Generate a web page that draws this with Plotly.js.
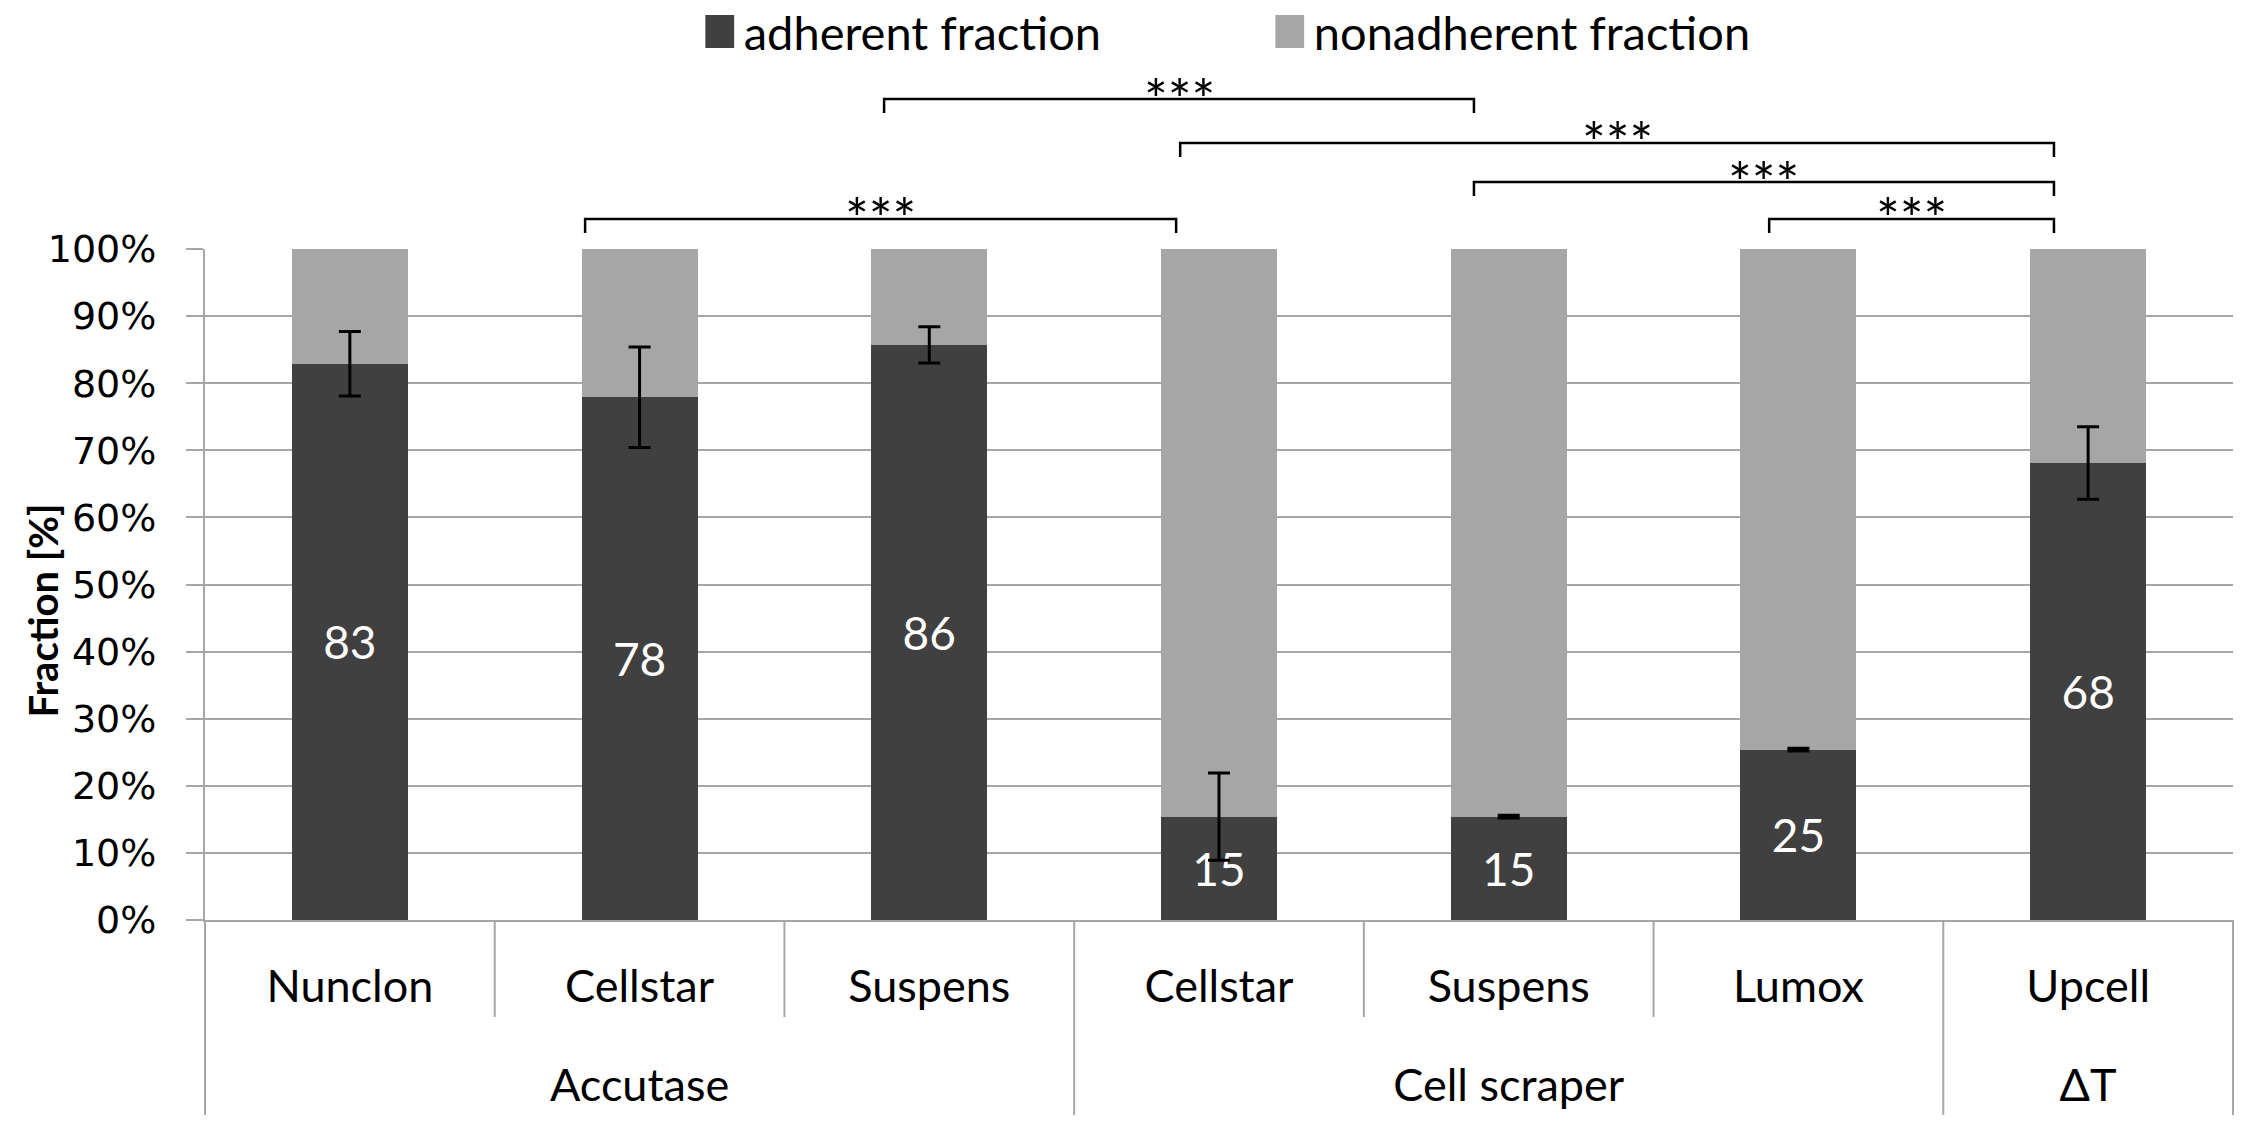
<!DOCTYPE html>
<html><head><meta charset="utf-8">
<script src="https://cdn.plot.ly/plotly-3.0.1.min.js"></script>
<style>html,body{margin:0;padding:0;background:#fff;}#chart{width:2255px;height:1139px;}</style>
</head><body><div id="chart"></div>
<script>
// ---- data ----
const groups = ['Accutase','Accutase','Accutase','Cell scraper','Cell scraper','Cell scraper','ΔT'];
const surfaces = ['Nunclon','Cellstar','Suspens','Cellstar','Suspens','Lumox','Upcell'];
const adherent = [82.9, 77.9, 85.7, 15.4, 15.4, 25.4, 68.1];
const adherentErr = [4.8, 7.5, 2.7, 6.5, 0.2, 0.2, 5.4];
const nonadherent = [17.1, 22.1, 14.3, 84.6, 84.6, 74.6, 31.9];
const seriesNames = ['adherent fraction', 'nonadherent fraction'];
const yTickVals = [0,10,20,30,40,50,60,70,80,90,100];
const yTickText = ['0%','10%','20%','30%','40%','50%','60%','70%','80%','90%','100%'];
const sigLabels = ['***','***','***','***','***'];

// ---- layout constants (significance brackets: category-index positions, px above plot top) ----
const brackets = [
  {x0: 0.812, x1: 2.852, up: 30},
  {x0: 1.844, x1: 3.880, up: 150},
  {x0: 2.866, x1: 5.882, up: 106},
  {x0: 3.880, x1: 5.882, up: 67},
  {x0: 4.899, x1: 5.882, up: 30}
];
const W = 2255, H = 1139;
const M = {l: 205, r: 22, t: 249, b: 219};
const plotH = H - M.t - M.b;
const n = surfaces.length;
const GRID = '#a6a6a6';
const FONT = 'Lato, "Open Sans", sans-serif';

const traces = [
  {
    type: 'bar', name: seriesNames[0],
    x: [groups, surfaces], y: adherent,
    marker: {color: '#404040'},
    texttemplate: '%{y:.0f}', textposition: 'inside', insidetextanchor: 'middle', textangle: 0,
    textfont: {family: FONT, size: 46, color: '#ffffff'},
    hoverinfo: 'skip'
  },
  {
    type: 'bar', name: seriesNames[1],
    x: [groups, surfaces], y: nonadherent,
    marker: {color: '#a6a6a6'},
    hoverinfo: 'skip'
  },
  {
    // error bars of the adherent fraction, drawn above both stacked bars
    type: 'scatter', mode: 'markers', showlegend: false,
    x: [groups, surfaces], y: adherent,
    marker: {size: 1, color: 'rgba(0,0,0,0)'},
    error_y: {type: 'data', array: adherentErr, visible: true, color: '#000', thickness: 3, width: 11},
    hoverinfo: 'skip'
  }
];

const shapes = [];
// category dividers below the axis (Excel style)
for (let k = 0; k <= n; k++) {
  const groupEdge = (k === 0 || k === n || groups[k] !== groups[k-1]);
  shapes.push({type: 'line', xref: 'paper', yref: 'paper', x0: k/n, x1: k/n,
    y0: 0, y1: -(groupEdge ? 195 : 97)/plotH, line: {color: GRID, width: 2}});
}
const annotations = [];
const tick = 14/plotH;
brackets.forEach((b, i) => {
  const xa = (b.x0 + 0.5)/n, xb = (b.x1 + 0.5)/n, y = 1 + b.up/plotH;
  shapes.push({type: 'path', xref: 'paper', yref: 'paper',
    path: `M ${xa},${y - tick} L ${xa},${y} L ${xb},${y} L ${xb},${y - tick}`,
    line: {color: '#000', width: 2.5}});
  annotations.push({xref: 'paper', yref: 'paper', x: (xa + xb)/2, y: y, yanchor: 'middle', xanchor: 'center',
    yshift: 1, showarrow: false, text: sigLabels[i], font: {family: FONT, size: 56, color: '#000'}});
});

const layout = {
  width: W, height: H,
  margin: M,
  paper_bgcolor: '#fff', plot_bgcolor: '#fff',
  barmode: 'stack', bargap: 0.6,
  showlegend: true,
  legend: {orientation: 'h', x: 0.527, xanchor: 'center', yref: 'container', y: 1 - 32/H, yanchor: 'middle',
    font: {family: FONT, size: 47, color: '#000'}, entrywidth: 525, entrywidthmode: 'pixels',
    traceorder: 'normal'},
  xaxis: {type: 'multicategory', showline: true, linecolor: GRID, linewidth: 2,
    showgrid: false, showdividers: false, ticks: '', ticklabelstandoff: 26,
    tickfont: {family: FONT, size: 45, color: '#000'}, fixedrange: true},
  yaxis: {range: [0, 100], tickvals: yTickVals, ticktext: yTickText, showgrid: true, gridcolor: GRID, gridwidth: 2,
    showline: true, linecolor: GRID, linewidth: 2, zeroline: false,
    ticks: 'outside', ticklen: 17, tickwidth: 2, tickcolor: GRID, ticklabelstandoff: 22,
    tickfont: {family: 'DejaVu Sans, sans-serif', size: 38, color: '#000'},
    title: {text: 'Fraction [%]', font: {family: FONT, size: 40, color: '#000', weight: 'bold'}, standoff: 0},
    fixedrange: true},
  shapes: shapes,
  annotations: annotations
};

Plotly.newPlot('chart', traces, layout, {staticPlot: true}).then(() => {
  const root = document.getElementById('chart');
  // larger legend swatches, like the reference
  root.querySelectorAll('.legendpoints path').forEach(p => {
    const t = p.getAttribute('transform') || '';
    p.setAttribute('transform', t + ' translate(-4,0) scale(2.4,2.75)');
  });
  // second-level category labels sit lower in the reference
  root.querySelectorAll('g.xtick2').forEach(g => {
    const t = g.getAttribute('transform') || '';
    g.setAttribute('transform', t + ' translate(0,69)');
  });
  // y title position
  root.querySelectorAll('.ytitle').forEach(t => {
    t.setAttribute('transform', 'translate(19,26) ' + (t.getAttribute('transform') || ''));
  });
});
</script></body></html>
